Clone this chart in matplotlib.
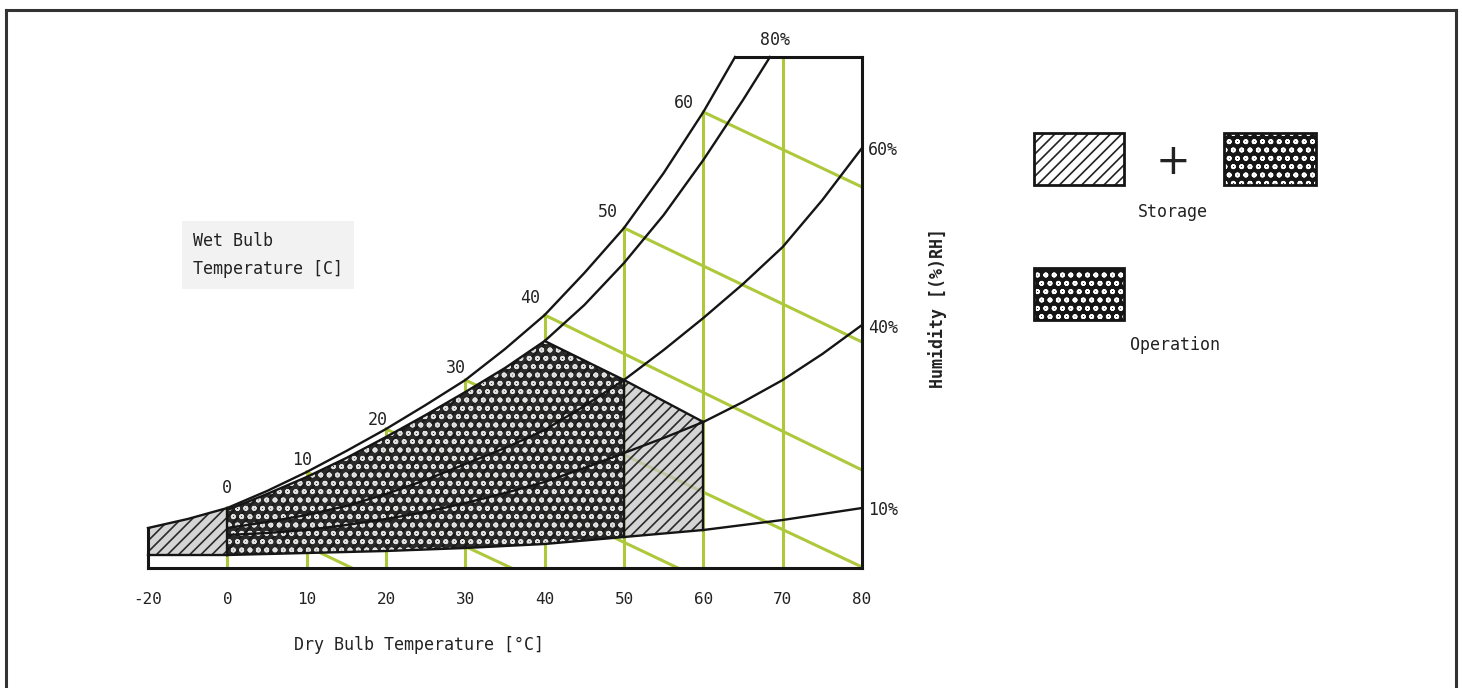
import numpy as np
import matplotlib
matplotlib.use("Agg")
import matplotlib.pyplot as plt
from matplotlib.patches import Rectangle
from matplotlib.lines import Line2D

# --- values (height = vertical chart units, 0 at the axis) ---
t_sat = [-20, -10, 0, 5, 10, 15, 20, 25, 30, 35, 40, 45, 50, 55, 60, 64]
h_sat = [4.0, 4.9, 6.0, 7.7, 9.6, 11.7, 13.9, 16.3, 18.8, 21.9, 25.3, 29.5, 34.0, 39.5, 45.6, 51.1]

t_rh80 = [0, 5, 10, 15, 20, 25, 30, 35, 40, 45, 50, 55, 60, 65, 68.4]
h_rh80 = [5.8, 7.4, 9.1, 11.0, 13.1, 15.3, 17.6, 20.0, 22.7, 26.3, 30.5, 35.3, 40.8, 46.8, 51.1]

t_rh = [0, 5, 10, 15, 20, 25, 30, 35, 40, 45, 50, 55, 60, 65, 70, 75, 80]
h_rh60 = [4.0, 4.6, 5.3, 6.2, 7.4, 8.8, 10.4, 12.0, 13.8, 16.2, 18.8, 21.8, 25.0, 28.4, 32.1, 36.8, 42.0]
h_rh40 = [3.3, 3.5, 3.8, 4.3, 4.9, 5.6, 6.5, 7.5, 8.6, 10.0, 11.5, 13.0, 14.6, 16.6, 18.8, 21.4, 24.3]

t_rh10 = [0, 10, 20, 30, 40, 50, 60, 70, 80]
h_rh10 = [1.3, 1.5, 1.7, 2.0, 2.4, 3.1, 3.8, 4.8, 6.0]

# sloping upper limit of the storage / operation areas
t_limit = [40, 50, 60]
h_limit = [22.7, 18.8, 14.6]
storage_floor = 1.3   # bottom of the storage area below 0 C

# wet bulb lines: start on saturation at t, end point
wb_t = [0, 10, 20, 30, 40, 50, 60]
wb_end_t = [15.7, 35.8, 56.8, 80, 80, 80, 80]
wb_end_h = [0, 0, 0, 0.1, 9.8, 22.6, 38.1]

db_ticks = [-20, 0, 10, 20, 30, 40, 50, 60, 70, 80]
db_grid = [0, 10, 20, 30, 40, 50, 60, 70]
h_top = 51.1

GREEN = '#adc93b'
BLACK = '#151515'
DOTS_FACE = '#161616'
W, H = 1462, 688

def px(x, y):
    return x / W, 1 - y / H

plt.rcParams['hatch.linewidth'] = 1.2

fig = plt.figure(figsize=(14.62, 6.88), dpi=100)
ax = fig.add_axes([148 / W, (H - 568) / H, 714 / W, 511 / H])

# below 0 C the scale is squeezed (the -20 tick sits one step left of 0)
ax.set_xscale('function', functions=(lambda t: np.where(t < 0, t / 2, t),
                                     lambda p: np.where(p < 0, p * 2, p)))
ax.set_xlim(-20, 80)
ax.set_ylim(0, h_top)

# green grid: dry bulb verticals and wet bulb lines
for t in db_grid:
    top = min(np.interp(t, t_sat, h_sat), h_top)
    ax.plot([t, t], [0, top], color=GREEN, lw=2.2, zorder=1, solid_capstyle='butt')
for t0, t1, h1 in zip(wb_t, wb_end_t, wb_end_h):
    ax.plot([t0, t1], [np.interp(t0, t_sat, h_sat), h1], color=GREEN, lw=2.2, zorder=1)

# storage area (hatched)
st_t = np.concatenate([t_sat[:3], t_rh80[1:9], t_limit[1:]])
st_top = np.concatenate([h_sat[:3], h_rh80[1:9], h_limit[1:]])
bot_t = np.concatenate([[-20], t_rh10[:7]])
bot_h = np.concatenate([[storage_floor], h_rh10[:7]])
ax.fill(np.concatenate([st_t, bot_t[::-1]]), np.concatenate([st_top, bot_h[::-1]]),
        facecolor=(0.78, 0.78, 0.78, 0.75), edgecolor='#2a2a2a', lw=0,
        hatch='///', zorder=2)

# operation area (dotted)
op_t = np.concatenate([t_rh80[:9], [50]])
op_top = np.concatenate([h_rh80[:9], [h_limit[1]]])
op_bt = t_rh10[:6]
op_bh = h_rh10[:6]
ax.fill(np.concatenate([op_t, op_bt[::-1]]), np.concatenate([op_top, op_bh[::-1]]),
        facecolor=(0.09, 0.09, 0.09, 0.9), edgecolor='#e0e0e0', lw=0,
        hatch='oo', zorder=2.1)

# black curves and outlines
kw = dict(color=BLACK, lw=1.7, zorder=3, clip_on=False)
ax.plot(t_sat, h_sat, **kw)
ax.plot(t_rh80, h_rh80, **kw)
ax.plot(t_rh, h_rh60, **kw)
ax.plot(t_rh, h_rh40, **kw)
ax.plot(t_rh10, h_rh10, **kw)
ax.plot(t_limit, h_limit, **kw)
ax.plot([-20, -20], [0, h_sat[0]], color=BLACK, lw=2.2, zorder=3, clip_on=False)
ax.plot([t_sat[-1], 80], [h_top, h_top], color=BLACK, lw=2.2, zorder=3, clip_on=False)
ax.plot([-20, 0], [storage_floor, storage_floor], **kw)
ax.plot([0, 0], [storage_floor, h_sat[2]], **kw)
ax.plot([50, 50], [h_rh10[5], h_limit[1]], **kw)
ax.plot([60, 60], [h_rh10[6], h_limit[2]], **kw)

for s in ['top', 'left']:
    ax.spines[s].set_visible(False)
for s in ['bottom', 'right']:
    ax.spines[s].set_linewidth(2.2)
    ax.spines[s].set_color(BLACK)
ax.set_yticks([])
ax.set_xticks(db_ticks)
ax.set_xticklabels([str(t) for t in db_ticks])
ax.tick_params(axis='x', length=0, pad=17, labelsize=11.5, labelcolor='#222')
for lab in ax.get_xticklabels():
    lab.set_family('DejaVu Sans Mono')

mono = dict(family='DejaVu Sans Mono', color='#222', fontsize=12)

# wet bulb labels along the saturation curve
wb_lab = [(0, 8.0), (9.4, 10.8), (19.0, 14.8), (28.8, 20.0), (38.2, 27.0), (48.0, 35.6), (57.6, 46.5)]
for t, (x, y) in zip(wb_t, wb_lab):
    ax.text(x, y, str(t), ha='center', va='center', **mono)
ax.text(69, 52.8, '80%', ha='center', va='center', clip_on=False, **mono)
for lab, hh in [('60%', 41.8), ('40%', 24.0), ('10%', 5.8)]:
    ax.text(80.8, hh, lab, ha='left', va='center', clip_on=False, **mono)

# axis captions
fig.text(*px(294, 645), 'Dry Bulb Temperature [°C]', ha='left', va='center', **mono)
fig.text(*px(193, 255), 'Wet Bulb\nTemperature [C]', ha='left', va='center', linespacing=1.7,
         bbox=dict(facecolor='#f2f2f2', edgecolor='none', pad=8), **mono)
fig.text(*px(938, 308), 'Humidity [(%)RH]', ha='center', va='center', rotation=90,
         fontweight='bold', **mono)

# legend
def box(x0, y0, x1, y1, **style):
    fx, fy = px(x0, y1)
    fig.add_artist(Rectangle((fx, fy), (x1 - x0) / W, (y1 - y0) / H,
                             transform=fig.transFigure, **style))
    fig.add_artist(Rectangle((fx, fy), (x1 - x0) / W, (y1 - y0) / H,
                             transform=fig.transFigure, facecolor='none',
                             edgecolor=BLACK, lw=2))

box(1034, 133, 1124, 185, facecolor='white', edgecolor='#222', lw=0, hatch='///')
box(1224, 133, 1316, 185, facecolor=DOTS_FACE, edgecolor='white', lw=0, hatch='oo')
box(1034, 268, 1124, 320, facecolor=DOTS_FACE, edgecolor='white', lw=0, hatch='oo')
fig.text(*px(1173, 162), '+', ha='center', va='center', fontsize=30, color='#222')
fig.text(*px(1173, 212), 'Storage', ha='center', va='center', **mono)
fig.text(*px(1175, 345), 'Operation', ha='center', va='center', **mono)

# page border
for xs, ys in [((6, 1456), (10, 10)), ((6, 6), (10, 688)), ((1456, 1456), (10, 688))]:
    fig.add_artist(Line2D([xs[0] / W, xs[1] / W], [1 - ys[0] / H, 1 - ys[1] / H],
                          transform=fig.transFigure, color='#333', lw=2.2))

fig.savefig('out.png', dpi=100)
